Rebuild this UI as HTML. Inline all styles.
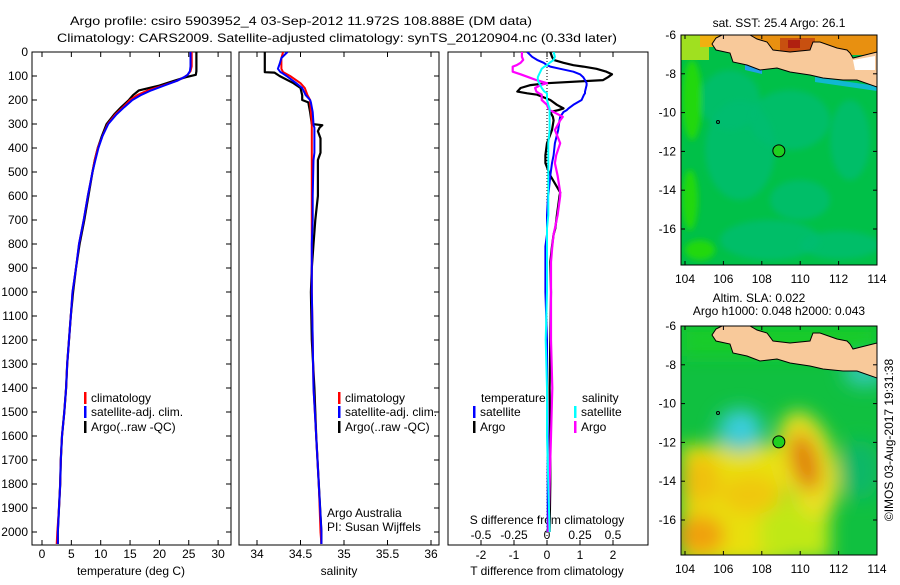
<!DOCTYPE html>
<html><head><meta charset="utf-8">
<style>
html,body{margin:0;padding:0;background:#fff;}
body{width:900px;height:580px;overflow:hidden;font-family:"Liberation Sans",sans-serif;}
svg text{font-family:"Liberation Sans",sans-serif;font-size:12px;fill:#000;}
</style></head>
<body>
<svg id="chart" width="900" height="580" viewBox="0 0 900 580" xmlns="http://www.w3.org/2000/svg">
<defs>
<clipPath id="cp1"><rect x="32" y="52" width="199" height="493"/></clipPath>
<clipPath id="cp2"><rect x="239" y="52" width="200" height="493"/></clipPath>
<clipPath id="cp3"><rect x="448" y="52" width="200" height="493"/></clipPath>
<clipPath id="cm1"><rect x="681" y="35" width="196" height="230"/></clipPath>
<clipPath id="cm2"><rect x="681" y="326" width="196" height="229"/></clipPath>
<filter id="blur8" x="-50%" y="-50%" width="200%" height="200%"><feGaussianBlur stdDeviation="9"/></filter>
<filter id="blur3"><feGaussianBlur stdDeviation="3"/></filter>
</defs>
<text x="70" y="25" font-size="14.5" textLength="462" lengthAdjust="spacingAndGlyphs">Argo profile: csiro 5903952_4 03-Sep-2012 11.972S 108.888E (DM data)</text>
<text x="57" y="42" font-size="14.5" textLength="560" lengthAdjust="spacingAndGlyphs">Climatology: CARS2009. Satellite-adjusted climatology: synTS_20120904.nc (0.33d later)</text>
<g id="g1"></g>
<g id="g2"></g>
<g id="g3"></g>
<g id="maps"></g>
<text transform="translate(893,440) rotate(-90)" text-anchor="middle">©IMOS 03-Aug-2017 19:31:38</text>
</svg>
<script>
// ---- data ----
const depths = [0,20,40,60,80,95,105,120,140,160,180,200,230,260,300,350,400,450,500,600,700,800,900,1000,1100,1200,1300,1400,1500,1600,1700,1800,1900,2000,2050];
const tempClim = [25.5,25.5,25.5,25.5,25.3,24.8,24.2,23.0,20.6,18.0,16.2,15.0,13.8,12.5,11.2,10.3,9.5,9.0,8.6,7.8,7.1,6.3,5.8,5.2,4.9,4.6,4.3,4.1,3.8,3.4,3.2,3.1,2.9,2.6,2.5];
const tempSat = [25.3,25.3,25.3,25.3,25.2,24.8,24.2,23.0,20.8,18.6,16.8,15.4,14.0,12.7,11.3,10.3,9.6,9.1,8.6,7.8,7.1,6.3,5.8,5.2,4.9,4.6,4.3,4.1,3.8,3.4,3.2,3.1,2.9,2.7,2.7];
const tempArgo = [26.3,26.3,26.3,26.3,26.3,26.2,24.5,22.5,20.0,16.5,15.5,14.8,13.5,12.3,11.0,10.2,9.5,9.0,8.6,7.9,7.2,6.4,5.8,5.3,4.9,4.6,4.3,4.1,3.8,3.4,3.2,3.1,2.9,2.7,2.7];
const salDepths = [0,25,50,70,84,86,100,130,150,180,200,210,250,300,305,315,330,360,420,450,600,700,800,900,1000,1200,1400,1600,1800,2000,2050];
const salClim = [34.30,34.28,34.28,34.28,34.30,34.31,34.38,34.50,34.55,34.58,34.61,34.61,34.62,34.63,34.63,34.63,34.63,34.63,34.63,34.63,34.63,34.63,34.63,34.63,34.63,34.64,34.65,34.68,34.71,34.73,34.74];
const salSat = [34.35,34.28,34.26,34.24,34.27,34.28,34.34,34.45,34.52,34.56,34.61,34.62,34.64,34.65,34.65,34.66,34.66,34.66,34.66,34.65,34.64,34.64,34.63,34.63,34.63,34.64,34.65,34.68,34.71,34.74,34.74];
const salArgo = [34.09,34.09,34.09,34.09,34.09,34.20,34.26,34.42,34.50,34.52,34.52,34.59,34.61,34.63,34.75,34.72,34.70,34.73,34.73,34.70,34.70,34.67,34.65,34.63,34.62,34.63,34.66,34.68,34.71,34.74,34.74];
const dDepths = [0,20,33,45,55,61,70,82,93,105,117,130,138,150,165,172,178,200,220,235,242,250,270,285,325,380,430,463,515,585,600,680,735,760,810,875,1000,1200,1400,1600,1800,2000];
const dTSat = [-0.6,-0.45,-0.3,-0.1,0.0,0.1,0.4,0.8,1.0,1.1,1.15,1.2,1.2,1.18,1.15,1.15,1.12,1.05,0.8,0.65,0.6,0.5,0.4,0.38,0.34,0.24,0.2,0.15,0.1,0.05,0.03,0.0,0.0,0.0,-0.05,-0.05,-0.05,0.0,0.0,0.02,0.02,0.02];
const dTArgo = [0.1,0.15,0.2,0.5,0.8,1.1,1.5,1.8,1.97,1.85,1.7,0.0,-0.5,-0.8,-0.9,-0.6,-0.3,0.1,0.3,0.5,0.35,0.1,0.18,0.2,0.15,0.0,-0.05,-0.05,0.1,0.4,0.38,0.3,0.25,0.2,0.15,0.1,0.12,0.1,0.08,0.1,0.1,0.08];
const dSSat = [0.05,0.06,0.05,0.02,0.0,-0.02,-0.04,-0.05,-0.06,-0.07,-0.07,-0.06,-0.05,-0.04,-0.02,0.0,0.0,0.0,0.01,0.02,0.02,0.02,0.02,0.02,0.02,0.01,0.01,0.01,0.01,0.01,0.01,0.01,0.0,0.0,0.0,0.0,0.0,-0.01,0.0,0.0,0.01,0.02];
const dSArgo = [-0.19,-0.19,-0.18,-0.2,-0.23,-0.26,-0.26,-0.26,-0.2,-0.14,-0.08,0.0,-0.05,-0.09,-0.08,-0.06,-0.04,-0.04,0.0,0.01,0.02,0.05,0.12,0.1,0.06,0.1,0.07,0.06,0.08,0.1,0.1,0.08,0.06,0.05,0.04,0.03,0.03,0.03,0.04,0.03,0.02,0.01];
const depthTicks = [0,100,200,300,400,500,600,700,800,900,1000,1100,1200,1300,1400,1500,1600,1700,1800,1900,2000];
const tempTicks = [0,5,10,15,20,25,30];
const salTicks = [34,34.5,35,35.5,36];
const salTickLabels = ["34","34.5","35","35.5","36"];
const tdTicks = [-2,-1,0,1,2];
const sdTicks = [-0.5,-0.25,0,0.25,0.5];
const sdTickLabels = ["-0.5","-0.25","0","0.25","0.5"];

// ---- axis functions ----
const yD = d => 52 + d*0.24;
const xT = t => 42 + t*5.87;
const xS = s => 257 + (s-34)*87;
const xTd = v => 547 + v*33;
const xSd = v => 547 + v*132;
const NS='http://www.w3.org/2000/svg';
function mk(tag, attrs, parent){const e=document.createElementNS(NS,tag);for(const k in attrs)e.setAttribute(k,attrs[k]);parent.appendChild(e);return e;}
function txt(parent,x,y,s,anchor){const t=mk('text',{x:x,y:y,'text-anchor':anchor||'start'},parent);t.textContent=s;return t;}

function frame(g,x0,w,xticks,xf){
  const r=mk('rect',{x:x0,y:52,width:w,height:493,fill:'none',stroke:'#000','stroke-width':1},g);
  
  
  xticks.forEach(v=>{const x=xf(v);
    mk('line',{x1:x,x2:x,y1:52,y2:57,stroke:'#000'},g);
    mk('line',{x1:x,x2:x,y1:545,y2:540,stroke:'#000'},g);});
}
function line(g,xs,ds,xf,color,w,name,clip){
  const pts=xs.map((v,i)=>xf(v).toFixed(1)+','+yD(ds[i]).toFixed(1)).join(' ');
  const p=mk('polyline',{points:pts,fill:'none',stroke:color,'stroke-width':w,'stroke-linejoin':'round','clip-path':'url(#'+clip+')'},g);
  
  
}
function legend(g,x,y,color,label,name){
  mk('rect',{x:x,y:y-10,width:2.5,height:12,fill:color},g);
  const t=txt(g,x+7,y,label);
  
  
}

// panel 1
const g1=document.getElementById('g1');
frame(g1,32,199,tempTicks,xT);
depthTicks.forEach(d=>{const y=yD(d);
  mk('line',{x1:32,x2:37,y1:y,y2:y,stroke:'#000'},g1);
  mk('line',{x1:231,x2:226,y1:y,y2:y,stroke:'#000'},g1);
  const t=txt(g1,28,y+4,String(d),'end');
  
  });
tempTicks.forEach(v=>{const t=txt(g1,xT(v),558,String(v),'middle');
  
  });
txt(g1,131,575,'temperature (deg C)','middle');
line(g1,tempArgo,depths,xT,'#000',2.2,'temp-argo-line','cp1');
line(g1,tempClim,depths,xT,'#f00',2,'temp-clim-line','cp1');
line(g1,tempSat,depths,xT,'#00f',2,'temp-sat-line','cp1');
legend(g1,84,402,'#f00','climatology','legend-climatology');
legend(g1,84,416,'#00f','satellite-adj. clim.','legend-satellite');
legend(g1,84,431,'#000','Argo(..raw -QC)','legend-argo');

// panel 2
const g2=document.getElementById('g2');
frame(g2,239,200,salTicks,xS);
depthTicks.forEach(d=>{const y=yD(d);mk('line',{x1:439,x2:434,y1:y,y2:y,stroke:'#000'},g2);});
salTicks.forEach((v,i)=>{const t=txt(g2,xS(v),558,salTickLabels[i],'middle');
  
  });
txt(g2,339,575,'salinity','middle');
line(g2,salArgo,salDepths,xS,'#000',2.2,'sal-argo-line','cp2');
line(g2,salClim,salDepths,xS,'#f00',2,'sal-clim-line','cp2');
line(g2,salSat,salDepths,xS,'#00f',2,'sal-sat-line','cp2');
legend(g2,338,402,'#f00','climatology','legend-climatology');
legend(g2,338,416,'#00f','satellite-adj. clim.','legend-satellite');
legend(g2,338,431,'#000','Argo(..raw -QC)','legend-argo');
txt(g2,327,517,'Argo Australia');
txt(g2,327,531,'PI: Susan Wijffels');

// panel 3
const g3=document.getElementById('g3');
frame(g3,448,200,tdTicks,xTd);
mk('line',{x1:547,x2:547,y1:52,y2:545,stroke:'#000','stroke-dasharray':'1,2'},g3);
tdTicks.forEach(v=>{const t=txt(g3,xTd(v),559,String(v),'middle');
  
  });
sdTicks.forEach((v,i)=>{const t=txt(g3,xSd(v),539,sdTickLabels[i],'middle');
  
  });
txt(g3,547,524,'S difference from climatology','middle');
txt(g3,547,575,'T difference from climatology','middle');
line(g3,dTArgo,dDepths,xTd,'#000',2.2,'tdiff-argo-line','cp3');
line(g3,dTSat,dDepths,xTd,'#00f',2,'tdiff-sat-line','cp3');
line(g3,dSArgo,dDepths,xSd,'#f0f',2.2,'sdiff-argo-line','cp3');
line(g3,dSSat,dDepths,xSd,'#0ff',2,'sdiff-sat-line','cp3');
txt(g3,481,402,'temperature');
txt(g3,582,402,'salinity');
legend(g3,473,416,'#00f','satellite','legend-t-satellite');
legend(g3,473,431,'#000','Argo','legend-t-argo');
legend(g3,574,416,'#0ff','satellite','legend-s-satellite');
legend(g3,574,431,'#f0f','Argo','legend-s-argo');

// maps
const lonTicks=[104,106,108,110,112,114];
const latTicks=[-6,-8,-10,-12,-14,-16];
const mx = lon => 685 + (lon-104)*19.2;
const gm=document.getElementById('maps');
function coast(g,dy){
  const land=[[722,35],[750,35],[757,39],[767,42],[773,50],[790,52],[810,50],[813,42],[820,42],[837,48],[847,50],[850,53],[853,58],[877,52],[877,87],[857,80],[843,80],[823,78],[810,75],[790,72],[777,68],[760,70],[747,65],[733,62],[730,53],[716,50],[712,44],[716,38]];
  const p=mk('polygon',{points:land.map(q=>q[0]+','+(q[1]+dy)).join(' '),fill:'#f8c99a',stroke:'#000','stroke-width':1},g);
  
  
  mk('circle',{cx:718,cy:122+dy,r:1.5,fill:'none',stroke:'#000'},g);
}
function mapAxes(g,top,bot,name){
  const r=mk('rect',{x:681,y:top,width:196,height:bot-top,fill:'none',stroke:'#000'},g);
  
  
  const my = lat => top + (-6-lat)*19.4;
  lonTicks.forEach(l=>{const x=mx(l);mk('line',{x1:x,x2:x,y1:bot,y2:bot-4,stroke:'#000'},g);mk('line',{x1:x,x2:x,y1:top,y2:top+4,stroke:'#000'},g);
    const t=txt(g,x,bot+18,String(l),'middle');
    
    });
  latTicks.forEach(l=>{const y=my(l);mk('line',{x1:681,x2:685,y1:y,y2:y,stroke:'#000'},g);mk('line',{x1:877,x2:873,y1:y,y2:y,stroke:'#000'},g);
    const t=txt(g,676,y+4,String(l),'end');
    
    });
  const c=mk('circle',{cx:mx(108.888),cy:my(-11.972),r:6,fill:'#20d020',stroke:'#000'},g);
  
  
}
// SST map
const m1=mk('g',{'clip-path':'url(#cm1)'},gm);


mk('rect',{x:681,y:35,width:196,height:230,fill:'#00c048'},m1);
const b1=mk('g',{filter:'url(#blur3)'},m1);
[[740,150,35,50],[790,120,40,30],[770,240,50,20],[840,245,40,14],[730,100,30,30],[850,140,20,40],[800,200,30,20]].forEach(q=>mk('ellipse',{cx:q[0],cy:q[1],rx:q[2],ry:q[3],fill:'#00bd70',opacity:0.8},b1));
[[700,250,15,10],[692,100,10,40],[690,200,8,30]].forEach(q=>mk('ellipse',{cx:q[0],cy:q[1],rx:q[2],ry:q[3],fill:'#22d810'},b1));
mk('rect',{x:681,y:35,width:28,height:25,fill:'#a0e020'},m1);
mk('rect',{x:700,y:35,width:22,height:12,fill:'#f0b010'},m1);
mk('rect',{x:750,y:35,width:127,height:20,fill:'#e89010'},m1);
mk('rect',{x:780,y:38,width:35,height:14,fill:'#c85010'},m1);
mk('rect',{x:788,y:40,width:12,height:8,fill:'#b02010'},m1);
mk('polygon',{points:'745,64 762,68 762,74 745,70',fill:'#20a0e8'},m1);
mk('polygon',{points:'815,77 877,86 877,91 815,82',fill:'#10b8d0'},m1);
coast(m1,0);
mk('polygon',{points:'853,60 875,56 875,70 855,70',fill:'#fff'},m1);
mapAxes(gm,35,265,'sst-map-frame');
txt(gm,779,27,'sat. SST: 25.4 Argo: 26.1','middle');
// SLA map
const m2=mk('g',{'clip-path':'url(#cm2)'},gm);


mk('rect',{x:681,y:326,width:196,height:229,fill:'#10c040'},m2);
const b2=mk('g',{filter:'url(#blur8)'},m2);
mk('rect',{x:681,y:445,width:105,height:120,fill:'#e8e010'},b2);
mk('rect',{x:760,y:500,width:70,height:60,fill:'#c0e818'},b2);
mk('ellipse',{cx:700,cy:535,rx:25,ry:20,fill:'#f0a010'},b2);
mk('ellipse',{cx:700,cy:480,rx:20,ry:25,fill:'#f0c010'},b2);
mk('ellipse',{cx:750,cy:495,rx:30,ry:20,fill:'#f0c810'},b2);
mk('ellipse',{cx:808,cy:465,rx:28,ry:55,fill:'#e8e020',transform:'rotate(-15 808 465)'},b2);
mk('ellipse',{cx:805,cy:462,rx:14,ry:30,fill:'#e08010',transform:'rotate(-15 805 462)'},b2);
mk('ellipse',{cx:740,cy:430,rx:24,ry:22,fill:'#30c8c0'},b2);
mk('ellipse',{cx:742,cy:428,rx:11,ry:11,fill:'#40d0e8'},b2);
mk('ellipse',{cx:865,cy:372,rx:22,ry:15,fill:'#30c8b0'},b2);
mk('ellipse',{cx:860,cy:470,rx:20,ry:30,fill:'#10b868'},b2);
mk('rect',{x:681,y:326,width:196,height:30,fill:'#18d020',opacity:0.8},b2);
coast(m2,291);
mapAxes(gm,326,555,'sla-map-frame');
txt(gm,759,302,'Altim. SLA: 0.022','middle');
txt(gm,779,315,'Argo h1000: 0.048 h2000: 0.043','middle');
</script>
</body></html>
